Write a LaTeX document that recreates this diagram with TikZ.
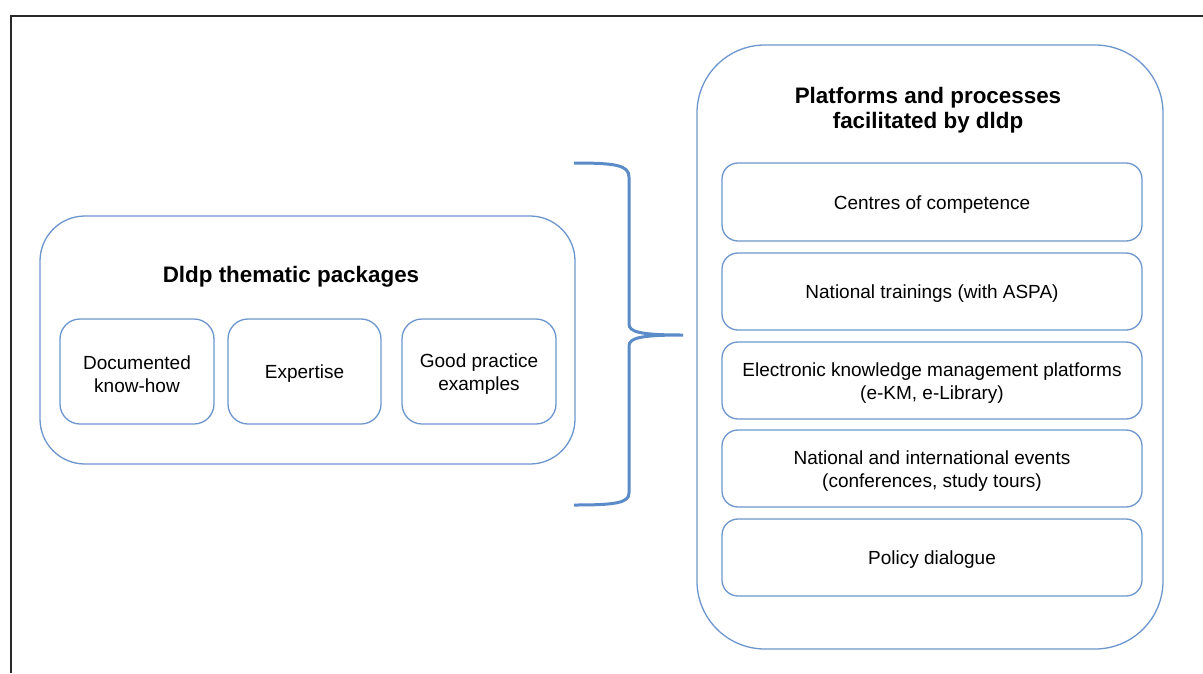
\documentclass[tikz,border=0pt]{standalone}
\usepackage{fontspec}
\setmainfont{Liberation Sans}
\definecolor{boxblue}{RGB}{108,150,205}
\definecolor{braceblue}{RGB}{92,140,200}
\definecolor{framegray}{RGB}{40,40,40}
\begin{document}
\begin{tikzpicture}[x=1pt,y=-1pt,
  box/.style={draw=boxblue,line width=1.3pt,rounded corners=16pt,inner sep=0pt},
  boxtext/.style={align=center,inner sep=0pt,font=\fontsize{19}{23}\selectfont},
  bigbox/.style={draw=boxblue,line width=1.3pt,inner sep=0pt},
  title/.style={align=center,font=\bfseries\fontsize{22.4}{25}\selectfont,inner sep=0pt},
  bracestyle/.style={draw=braceblue,line width=3pt}]
\useasboundingbox (0,0) rectangle (1203,673);
% frame
\draw[framegray,line width=1.5pt] (11,673) -- (11,16) -- (1203,16);
% left big box
\node[bigbox,rounded corners=45pt,minimum width=535pt,minimum height=248pt] (left) at (307.5,340) {};
\node[title] (lefttitle) at (291,277) {Dldp thematic packages};
\node[box,rounded corners=20pt,minimum width=154pt,minimum height=105pt] (doc) at (137,371.5) {};
\node[box,rounded corners=20pt,minimum width=153pt,minimum height=105pt] (exp) at (304.5,371.5) {};
\node[box,rounded corners=20pt,minimum width=154pt,minimum height=105pt] (good) at (479,371.5) {};
\node[boxtext] (doct) at ([yshift=-2.5pt]doc.center) {Documented\\know-how};
\node[boxtext] (expt) at ([yshift=-2.5pt]exp.center) {Expertise};
\node[boxtext] (goodt) at ([yshift=-2.5pt]good.center) {Good practice\\examples};
% right big box
\node[bigbox,rounded corners=68pt,minimum width=466pt,minimum height=604pt] (right) at (930,347) {};
\node[title] (righttitle) at (928,110) {Platforms and processes\\facilitated by dldp};
\node[box,minimum width=420pt,minimum height=78pt] (b1) at (932,202) {};
\node[box,minimum width=420pt,minimum height=77pt] (b2) at (932,291.5) {};
\node[box,minimum width=420pt,minimum height=77pt] (b3) at (932,380.5) {};
\node[box,minimum width=420pt,minimum height=77pt] (b4) at (932,468.5) {};
\node[box,minimum width=420pt,minimum height=77pt] (b5) at (932,557.5) {};
\node[boxtext] (b1t) at ([yshift=-2.5pt]b1.center) {Centres of competence};
\node[boxtext] (b2t) at ([yshift=-2.5pt]b2.center) {National trainings (with ASPA)};
\node[boxtext] (b3t) at ([yshift=-2.5pt]b3.center) {Electronic knowledge management platforms\\(e-KM, e-Library)};
\node[boxtext] (b4t) at ([yshift=-2.5pt]b4.center) {National and international events\\(conferences, study tours)};
\node[boxtext] (b5t) at ([yshift=-2.5pt]b5.center) {Policy dialogue};
% brace
\coordinate (bt) at (574,163);
\coordinate (tip) at (683,335);
\coordinate (bb) at (574,505);
\draw[bracestyle] (bt) .. controls (615,163) and (629,165) .. (629,177) -- (629,324)
  .. controls (629,332) and (640,335) .. (tip)
  .. controls (640,335) and (629,338) .. (629,346) -- (629,493)
  .. controls (629,503) and (615,505) .. (bb);
\end{tikzpicture}
\end{document}
